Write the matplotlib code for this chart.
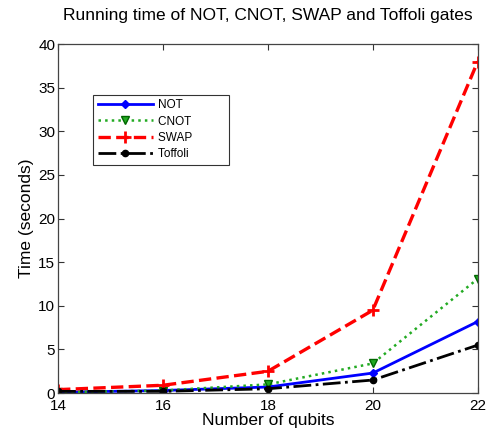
import matplotlib
matplotlib.use('Agg')
import matplotlib.pyplot as plt

plt.rcParams['font.family'] = ['Liberation Sans', 'DejaVu Sans']

# data
qubits = [14, 16, 18, 20, 22]
t_not = [0.1, 0.3, 0.7, 2.3, 8.2]
t_cnot = [0.1, 0.3, 1.0, 3.4, 13.1]
t_swap = [0.4, 0.9, 2.5, 9.5, 38.0]
t_toffoli = [0.2, 0.2, 0.5, 1.5, 5.5]
labels = ['NOT', 'CNOT', 'SWAP', 'Toffoli']

fig = plt.figure(figsize=(4.92, 4.32), dpi=100)
ax = fig.add_axes([0.118, 0.090, 0.853, 0.808])

pad = '          '  # matlab legends leave blank room on the right
ax.plot(qubits, t_not, '-', color='#0000ff', lw=2, marker='D', ms=4,
        label=labels[0] + pad)
ax.plot(qubits, t_cnot, ':', color='#22aa22', lw=1.8, marker='v', ms=6,
        mfc='#22aa22', mec='#006600', label=labels[1] + pad)
ax.plot(qubits, t_swap, '--', color='#ff0000', lw=2.4, marker='+', ms=9,
        mew=2, label=labels[2] + pad)
ax.plot(qubits, t_toffoli, '-.', color='black', lw=2, marker='o', ms=4.5,
        label=labels[3] + pad)

ax.set_xlim(14, 22)
ax.set_ylim(0, 40)
ax.set_xticks(qubits)
ax.set_yticks(range(0, 41, 5))
ax.tick_params(direction='in', top=True, right=True, labelsize=11,
               length=4, pad=2, color='#333333')
ax.tick_params(axis='x', pad=4)
for s in ax.spines.values():
    s.set_linewidth(0.9)
    s.set_color('#444444')

ax.set_xlabel('Number of qubits', fontsize=12.5, labelpad=0)
ax.set_ylabel('Time (seconds)', fontsize=12.5, labelpad=3)
ax.set_title('Running time of NOT, CNOT, SWAP and Toffoli gates',
             fontsize=12.5, pad=17)

leg = ax.legend(loc='upper left', bbox_to_anchor=(0.083, 0.855),
                fontsize=8.5, frameon=True, fancybox=False,
                edgecolor='black', borderpad=0.4, labelspacing=0.35,
                handlelength=4.7, handletextpad=0.4, borderaxespad=0)
leg.get_frame().set_linewidth(0.8)

fig.savefig('out.png', dpi=100)
